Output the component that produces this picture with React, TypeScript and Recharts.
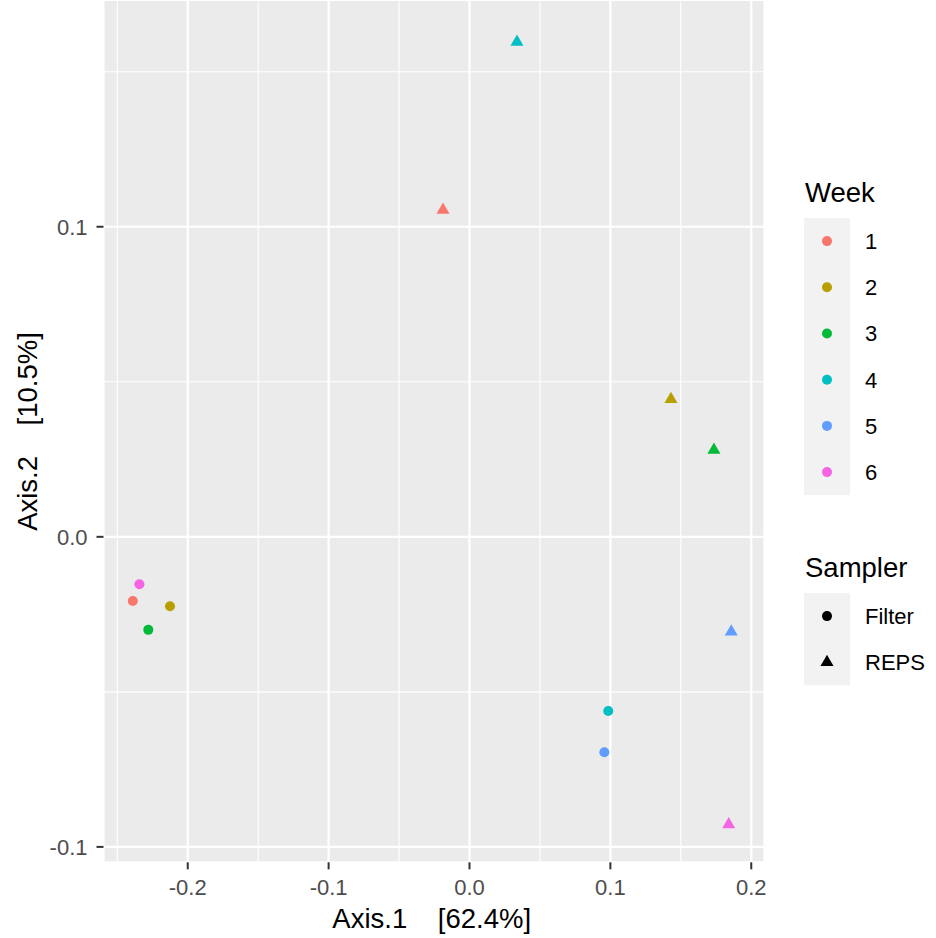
import { CartesianGrid, ReferenceLine, Scatter, ScatterChart, XAxis, YAxis } from "recharts"

const FONT = "'Liberation Sans', Arial, sans-serif"

// weeks and their ggplot hue colours
const weeks = ["1", "2", "3", "4", "5", "6"]
const weekColors = ["#F8766D", "#B79F00", "#00BA38", "#00BFC4", "#619CFF", "#F564E3"]

// Filter sampler (circles), one per week
const filterX = [-0.239, -0.2126, -0.228, 0.0985, 0.0957, -0.2343]
const filterY = [-0.0207, -0.0224, -0.03, -0.0562, -0.0695, -0.0153]

// REPS sampler (triangles), one per week
const repsX = [-0.0188, 0.143, 0.1735, 0.0337, 0.1858, 0.184]
const repsY = [0.1054, 0.0444, 0.028, 0.1596, -0.0306, -0.0928]

const xTicks = [-0.2, -0.1, 0, 0.1, 0.2]
const yTicks = [-0.1, 0, 0.1]
const xMinor = [-0.25, -0.15, -0.05, 0.05, 0.15]
const yMinor = [-0.05, 0.05, 0.15]

const samplers = ["Filter", "REPS"]

const filterData = weeks.map((w, i) => ({ week: w, x: filterX[i], y: filterY[i], color: weekColors[i] }))
const repsData = weeks.map((w, i) => ({ week: w, x: repsX[i], y: repsY[i], color: weekColors[i] }))

const Circle = (props: any) => {
  const { cx, cy, payload } = props
  return <circle cx={cx} cy={cy} r={5} fill={payload.color} />
}

const Triangle = (props: any) => {
  const { cx, cy, payload } = props
  const s = 4.83
  const pts = `${cx},${cy - 1.555 * s} ${cx + 1.347 * s},${cy + 0.778 * s} ${cx - 1.347 * s},${cy + 0.778 * s}`
  return <polygon points={pts} fill={payload.color} />
}

const tickStyle = { fill: "#4D4D4D", fontSize: 22, fontFamily: FONT }

export default function App() {
  const keyTop = 218
  const keyStep = 46.2
  const samplerTop = 593
  return (
    <div style={{ position: "absolute", left: 0, top: 0, width: 936, height: 938, background: "#fff" }}>
      <ScatterChart width={936} height={938} margin={{ top: 0, right: 171.5, bottom: 35.7, left: 0 }}>
        <CartesianGrid fill="#EBEBEB" stroke="#FFFFFF" strokeWidth={2.2} />
        {xMinor.map((v) => (
          <ReferenceLine key={"xm" + v} x={v} stroke="#FFFFFF" strokeWidth={1.1} />
        ))}
        {yMinor.map((v) => (
          <ReferenceLine key={"ym" + v} y={v} stroke="#FFFFFF" strokeWidth={1.1} />
        ))}
        <XAxis
          type="number"
          dataKey="x"
          domain={[-0.2598, 0.2094]}
          ticks={xTicks}
          allowDataOverflow
          height={40}
          axisLine={false}
          tickSize={7}
          tickMargin={10}
          tickLine={{ stroke: "#333333", strokeWidth: 2 }}
          tick={tickStyle}
          tickFormatter={(v) => v.toFixed(1)}
        />
        <YAxis
          type="number"
          dataKey="y"
          domain={[-0.10497, 0.17313]}
          ticks={yTicks}
          allowDataOverflow
          width={103.5}
          axisLine={false}
          tickSize={7}
          tickMargin={9}
          tickLine={{ stroke: "#333333", strokeWidth: 2 }}
          tick={tickStyle}
          tickFormatter={(v) => v.toFixed(1)}
        />
        <Scatter name="Filter" data={filterData} shape={Circle} isAnimationActive={false} />
        <Scatter name="REPS" data={repsData} shape={Triangle} isAnimationActive={false} />
      </ScatterChart>
      <svg
        width={936}
        height={938}
        style={{ position: "absolute", left: 0, top: 0, pointerEvents: "none" }}
        fontFamily={FONT}
      >
        <text x={431.7} y={927.5} textAnchor="middle" fontSize={27.5} fill="#000" style={{ whiteSpace: "pre" }}>
          {"Axis.1    [62.4%]"}
        </text>
        <text
          x={0}
          y={0}
          transform="translate(36.7,431.5) rotate(-90)"
          textAnchor="middle"
          fontSize={27.5}
          fill="#000"
          style={{ whiteSpace: "pre" }}
        >
          {"Axis.2    [10.5%]"}
        </text>

        <text x={805} y={202} fontSize={27.5} fill="#000">Week</text>
        <rect x={804} y={keyTop} width={46} height={keyStep * weeks.length} fill="#F2F2F2" />
        {weeks.map((w, i) => {
          const cy = keyTop + keyStep * (i + 0.5)
          return (
            <g key={w}>
              <circle cx={827} cy={cy} r={5} fill={weekColors[i]} />
              <text x={865} y={cy + 7.9} fontSize={22} fill="#000">{w}</text>
            </g>
          )
        })}

        <text x={805} y={577} fontSize={27.5} fill="#000">Sampler</text>
        <rect x={804} y={samplerTop} width={46} height={keyStep * 2} fill="#F2F2F2" />
        {samplers.map((s, i) => {
          const cy = samplerTop + keyStep * (i + 0.5)
          const k = 4.83
          return (
            <g key={s}>
              {i === 0 ? (
                <circle cx={827} cy={cy} r={5} fill="#000" />
              ) : (
                <polygon
                  points={`827,${cy - 1.555 * k} ${827 + 1.347 * k},${cy + 0.778 * k} ${827 - 1.347 * k},${cy + 0.778 * k}`}
                  fill="#000"
                />
              )}
              <text x={865} y={cy + 7.9} fontSize={22} fill="#000">{s}</text>
            </g>
          )
        })}
      </svg>
    </div>
  )
}
